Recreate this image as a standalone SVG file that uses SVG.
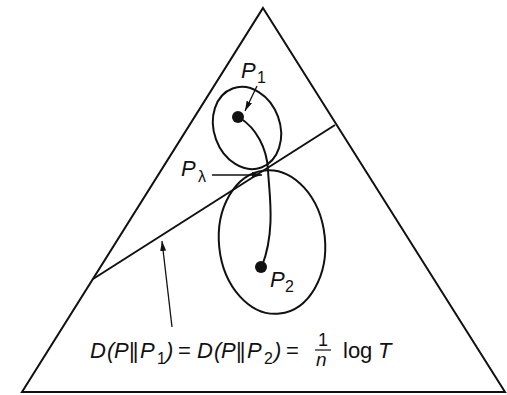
<svg xmlns="http://www.w3.org/2000/svg" width="507" height="395" viewBox="0 0 507 395">
<style>
.ln{fill:none;stroke:#111;stroke-width:2;stroke-linejoin:miter}
.ar{fill:none;stroke:#111;stroke-width:1.3}
.t{font-family:"Liberation Sans",Arial,sans-serif;font-size:22px;font-style:italic;fill:#111}
.s{font-family:"Liberation Sans",Arial,sans-serif;font-size:16px;fill:#111}
.u{font-style:normal}
.bar{font-style:normal;letter-spacing:-2px}
</style>
<defs>
<marker id="ah" viewBox="0 0 10 6" refX="10" refY="3" markerWidth="10" markerHeight="6" markerUnits="userSpaceOnUse" orient="auto">
<path d="M0,0 L10,3 L0,6 Z" fill="#111"/>
</marker>
</defs>
<rect width="507" height="395" fill="#fff"/>
<g id="triangle"><path class="ln" d="M263,8 L505,392 L22,392 Z"/></g>
<g id="boundary-line"><line class="ln" x1="93" y1="279" x2="335" y2="125"/></g>
<g id="loop1"><ellipse class="ln" cx="247" cy="128" rx="33" ry="42" transform="rotate(-20 247 128)"/></g>
<g id="loop2"><ellipse class="ln" cx="272" cy="242" rx="53" ry="72" transform="rotate(-6 272 242)"/></g>
<g id="path"><path class="ln" d="M240,118 C256,128 267,148 268,170 S276,230 262,266"/></g>
<g id="P1"><circle cx="238" cy="117" r="6" fill="#111"/>
<text class="t" x="241" y="78">P</text><text class="s" x="257" y="83">1</text></g>
<g id="P2"><circle cx="261" cy="267" r="6" fill="#111"/>
<text class="t" x="270" y="287">P</text><text class="s" x="285" y="292">2</text></g>
<g id="Plambda"><text class="t" x="181" y="176">P</text><text class="s" x="198" y="182">λ</text></g>
<g id="formula">
<text class="t" y="358"><tspan x="90">D</tspan><tspan x="107">(</tspan><tspan x="114">P</tspan><tspan x="129" class="bar">||</tspan><tspan x="140">P</tspan></text>
<text class="s" x="157" y="364">1</text>
<text class="t" x="166" y="358">)</text>
<text class="t u" x="178" y="358">=</text>
<text class="t" y="358"><tspan x="197">D</tspan><tspan x="214">(</tspan><tspan x="221">P</tspan><tspan x="236" class="bar">||</tspan><tspan x="247">P</tspan></text>
<text class="s" x="264" y="364">2</text>
<text class="t" x="274" y="358">)</text>
<text class="t u" x="286" y="358">=</text>
<text class="s" x="318" y="346" style="font-size:18px">1</text>
<line x1="315" y1="350" x2="331" y2="350" stroke="#111" stroke-width="1.2"/>
<text class="t" x="316" y="366" style="font-size:19px">n</text>
<text class="t u" x="343" y="358">log</text>
<text class="t" x="378" y="358">T</text>
</g>
<g id="connectors">
<line class="ar" x1="257" y1="86" x2="245" y2="111" marker-end="url(#ah)"/>
<line class="ar" x1="212" y1="175" x2="262" y2="175" marker-end="url(#ah)"/>
<line class="ar" x1="172" y1="327" x2="162" y2="241" marker-end="url(#ah)"/>
</g>
</svg>
